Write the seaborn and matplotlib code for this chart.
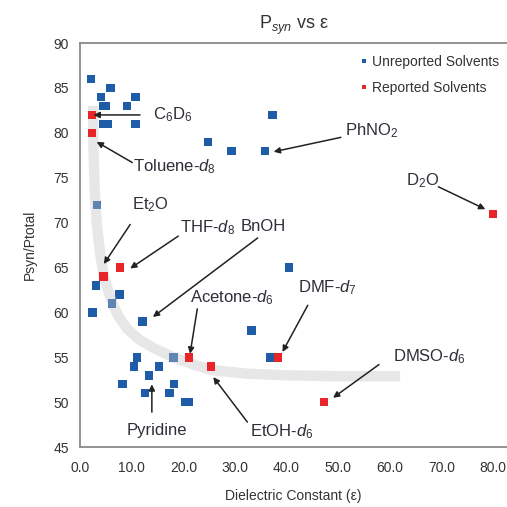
import numpy as np
import pandas as pd
import matplotlib
matplotlib.use("Agg")
import matplotlib.pyplot as plt
import seaborn as sns

# ---- data ----
unrep_x = [2.1, 4.0, 5.9, 4.4, 5.0, 9.1, 10.7, 4.5, 5.4, 10.7, 24.8, 29.3, 35.8, 37.3,
           3.3, 3.1, 7.6, 6.2, 2.4, 12.1, 40.5, 33.2, 36.8, 18.1, 11.0, 10.4, 15.3,
           13.4, 8.2, 18.2, 12.6, 17.3, 20.3, 21.0]
unrep_y = [86, 84, 85, 83, 83, 83, 84, 81, 81, 81, 79, 78, 78, 82,
           72, 63, 62, 61, 60, 59, 65, 58, 55, 55, 55, 54, 54,
           53, 52, 52, 51, 51, 50, 50]
rep_names = ["C6D6", "Toluene", "Et2O", "THF", "Acetone", "EtOH", "DMF", "DMSO", "D2O"]
rep_x = [2.3, 2.3, 4.5, 7.7, 21.1, 25.4, 38.4, 47.3, 80.0]
rep_y = [82, 80, 64, 65, 55, 54, 55, 50, 71]

trend_x = [2.5, 2.6, 2.8, 3.2, 3.9, 4.6, 5.5, 6.3, 7.4, 9.1, 11.4, 14.4, 18.1, 22.0,
           25.4, 32.0, 40.0, 50.0, 62.0]
trend_y = [83, 78, 74, 70, 66.5, 64, 62.3, 61, 59.6, 58.2, 57, 56, 55, 54.2,
           53.6, 53.2, 53.0, 52.9, 52.9]

x_ticks = [0, 10, 20, 30, 40, 50, 60, 70, 80]
x_ticklabels = ["0.0", "10.0", "20.0", "30.0", "40.0", "50.0", "60.0", "70.0", "80.0"]
y_ticks = [45, 50, 55, 60, 65, 70, 75, 80, 85, 90]

# annotations: label, text pos, arrow start, arrow end, ha
annots = [
    ("C$_6$D$_6$",          (14.1, 82.0), (11.6, 82.0), (2.6, 82.0), "left"),
    ("Toluene-$d_8$",       (10.3, 76.2), (10.1, 76.7), (3.2, 79.0), "left"),
    ("Et$_2$O",             (10.1, 72.0), (9.7, 69.8), (4.6, 65.4), "left"),
    ("THF-$d_8$",           (19.4, 69.5), (19.0, 68.5), (9.7, 64.9), "left"),
    ("BnOH",                (31.1, 69.6), (34.4, 68.3), (14.1, 59.5), "left"),
    ("PhNO$_2$",            (51.3, 80.3), (50.5, 79.5), (37.5, 77.9), "left"),
    ("D$_2$O",              (63.2, 74.7), (69.4, 74.0), (78.5, 71.5), "left"),
    ("Acetone-$d_6$",       (29.5, 61.6), (22.7, 60.4), (21.3, 55.4), "center"),
    ("DMF-$d_7$",           (42.2, 62.8), (44.1, 60.8), (39.2, 55.6), "left"),
    ("DMSO-$d_6$",          (60.6, 55.1), (57.9, 54.2), (49.0, 50.5), "left"),
    ("EtOH-$d_6$",          (33.0, 46.7), (32.4, 47.8), (25.8, 52.8), "left"),
    ("Pyridine",            (14.9, 46.9), (13.9, 48.9), (13.9, 52.0), "center"),
]

# ---- styling ----
sns.set_theme(style="white")
plt.rcParams["font.family"] = ["Liberation Sans", "DejaVu Sans"]
plt.rcParams["mathtext.fontset"] = "custom"
plt.rcParams["mathtext.rm"] = "Liberation Sans"
plt.rcParams["mathtext.it"] = "Liberation Sans:italic"
plt.rcParams["mathtext.bf"] = "Liberation Sans:bold"

BLUE = "#1f5ca8"
RED = "#e8262a"
TXT = "#2e2e38"

unrep = pd.DataFrame({"eps": unrep_x, "psyn": unrep_y,
                      "type": ["Unreported Solvents"] * len(unrep_x)})
rep = pd.DataFrame({"eps": rep_x, "psyn": rep_y,
                    "type": ["Reported Solvents"] * len(rep_x)})
trend = pd.DataFrame({"x": trend_x, "y": trend_y})
pal = {"Unreported Solvents": BLUE, "Reported Solvents": RED}

fig = plt.figure(figsize=(5.07, 5.07), dpi=100)
ax = fig.add_axes([0.158, 0.118, 0.842, 0.797])

sns.scatterplot(data=unrep, x="eps", y="psyn", hue="type", palette=pal,
                marker="s", s=36, linewidth=0, ax=ax, zorder=2)
sns.lineplot(data=trend, x="x", y="y", sort=False, color="#c4c4c4", alpha=0.4,
             linewidth=7.5, solid_capstyle="butt", ax=ax, zorder=3, legend=False)
sns.scatterplot(data=rep, x="eps", y="psyn", hue="type", palette=pal,
                marker="s", s=36, linewidth=0, ax=ax, zorder=4)

for label, tpos, astart, aend, ha in annots:
    ax.text(tpos[0], tpos[1], label, ha=ha, va="center", fontsize=12, color=TXT, zorder=5)
    ax.annotate("", xy=aend, xytext=astart,
                arrowprops=dict(arrowstyle="-|>", color="#222222", lw=1.1,
                                mutation_scale=9, shrinkA=0, shrinkB=0), zorder=5)

ax.set_xlim(0, 82.7)
ax.set_ylim(45, 90)
ax.set_xticks(x_ticks)
ax.set_xticklabels(x_ticklabels)
ax.set_yticks(y_ticks)
ax.tick_params(axis="both", direction="out", length=4, width=1, color="#888888",
               labelsize=10, labelcolor="#333333", pad=4)
ax.tick_params(axis="x", pad=6)

for side in ["left", "bottom", "top"]:
    ax.spines[side].set_color("#8a8a8a")
    ax.spines[side].set_linewidth(1.3)
ax.spines["right"].set_visible(False)

ax.set_xlabel("Dielectric Constant (ε)", fontsize=10, color="#333333", labelpad=10)
ax.set_ylabel("Psyn/Ptotal", fontsize=10, color="#333333", labelpad=12)
ax.set_title(r"P$_{\mathit{syn}}$ vs ε", fontsize=13, color="#333333", pad=10)

handles, labels = ax.get_legend_handles_labels()
seen = {}
for h, l in zip(handles, labels):
    if l not in seen:
        seen[l] = h
leg = ax.legend([seen["Unreported Solvents"], seen["Reported Solvents"]],
                ["Unreported Solvents", "Reported Solvents"],
                loc="upper right", bbox_to_anchor=(0.995, 0.985), frameon=False,
                fontsize=10, markerscale=0.6, handlelength=0.6, handletextpad=0.3,
                labelspacing=0.9, borderaxespad=0)
for t in leg.get_texts():
    t.set_color("#333333")

fig.savefig("out.png", dpi=100)
